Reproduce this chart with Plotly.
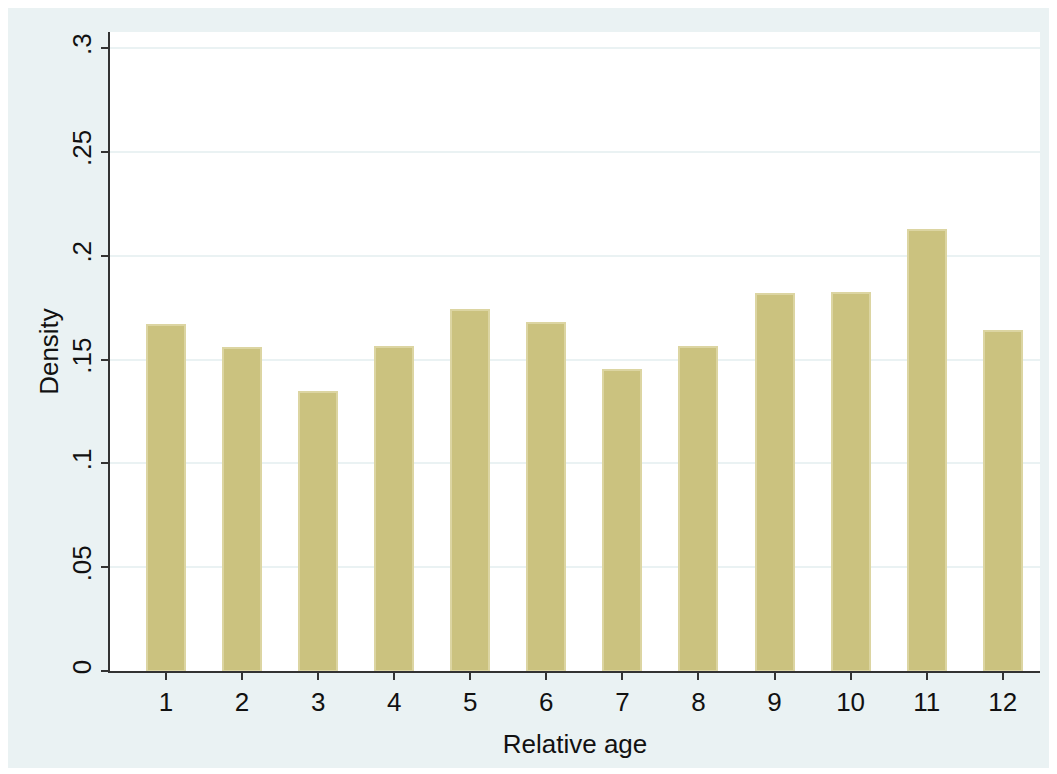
import plotly.graph_objects as go

ages = [1, 2, 3, 4, 5, 6, 7, 8, 9, 10, 11, 12]
density = [0.1666, 0.1553, 0.1343, 0.1560, 0.1738, 0.1676, 0.1449, 0.1560, 0.1815, 0.1820, 0.2123, 0.1637]
y_ticks = [0, 0.05, 0.1, 0.15, 0.2, 0.25, 0.3]
y_labels = ["0", ".05", ".1", ".15", ".2", ".25", ".3"]

# page body has an 8px margin; figure is sized to fill the rest of the window
OFF = 8
W, H = 1057 - OFF, 774 - OFF
L, R, T, B = 110 - OFF, 17, 32 - OFF, 103
pw, ph = W - L - R, H - T - B

def px_x(p):
    return (p - OFF - L) / pw

def px_y(p):
    return (H - B - (p - OFF)) / ph

bg = "#EAF2F3"
fig = go.Figure()
fig.add_trace(go.Bar(
    x=ages, y=density, width=0.5,
    marker=dict(color="#CBC27F", line=dict(color="#DCD5A2", width=2)),
))

fig.add_shape(type="rect", xref="paper", yref="paper", layer="below",
              x0=px_x(6), x1=px_x(1050), y0=px_y(768), y1=px_y(5),
              fillcolor=bg, line=dict(width=0))
fig.add_shape(type="rect", xref="paper", yref="paper", layer="below",
              x0=0, x1=1, y0=0, y1=1, fillcolor="white", line=dict(width=0))

fam = "Liberation Sans, Arial, sans-serif"
tickfont = dict(family=fam, size=26, color="#111")
titlefont = dict(family=fam, size=26, color="#111")
fig.update_layout(
    width=W, height=H,
    margin=dict(l=L, r=R, t=T, b=B, pad=0),
    paper_bgcolor="white", plot_bgcolor="rgba(0,0,0,0)",
    font=tickfont, showlegend=False, bargap=0,
    xaxis=dict(
        range=[0.264, 12.49], tickvals=ages, ticktext=[str(a) for a in ages],
        showgrid=False, zeroline=False, showline=True, linecolor="#333", linewidth=2,
        ticks="outside", ticklen=7, tickwidth=1.5, tickcolor="#333",
        title=dict(text="Relative age", standoff=19, font=titlefont), tickfont=tickfont,
    ),
    yaxis=dict(
        range=[0, 0.3077], tickvals=y_ticks, ticktext=y_labels, tickangle=-90,
        showgrid=True, gridcolor=bg, gridwidth=2, zeroline=False,
        showline=True, linecolor="#333", linewidth=2,
        ticks="outside", ticklen=7, tickwidth=1.5, tickcolor="#333",
        title=dict(text="Density", standoff=0, font=titlefont), tickfont=tickfont,
    ),
)
fig.write_html("out.html")
